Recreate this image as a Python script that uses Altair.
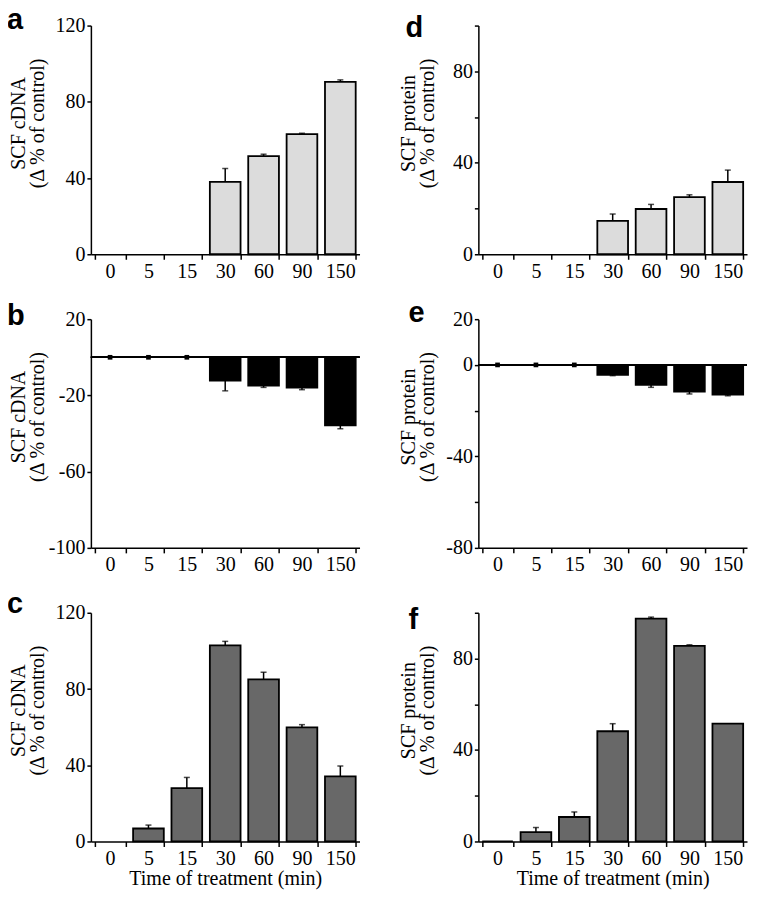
import altair as alt
import pandas as pd

times = ["0", "5", "15", "30", "60", "90", "150"]

# panel a: SCF cDNA (light grey)
a_vals = [0, 0, 0, 38, 51.5, 63, 90.5]
a_errs = [0, 0, 0, 7, 1, 0.5, 1]
# panel b: SCF cDNA (black, negative)
b_vals = [0, 0, 0, -12.2, -14.8, -15.9, -35.7]
b_errs = [0.5, 0.5, 0.5, 5.4, 1, 1.1, 1.8]
# panel c: SCF cDNA (dark grey)
c_vals = [0, 6.8, 28, 102.9, 85.1, 59.9, 34.2]
c_errs = [0, 1.8, 5.6, 2.1, 3.7, 1.4, 5.4]
# panel d: SCF protein (light grey)
d_vals = [0, 0, 0, 14.6, 19.8, 25, 31.6]
d_errs = [0, 0, 0, 3, 2, 1, 5.2]
# panel e: SCF protein (black, negative)
e_vals = [0, 0, 0, -4.3, -8.7, -11.7, -13.0]
e_errs = [0.3, 0.3, 0.3, 0.4, 1.1, 1, 0.5]
# panel f: SCF protein (dark grey)
f_vals = [0, 4.1, 10.7, 48.2, 97.4, 85.5, 51.5]
f_errs = [0, 2, 2.2, 3.3, 0.7, 0.5, 0]

title_cdna = ["SCF cDNA", "(\u0394 % of control)"]
title_prot = ["SCF protein", "(\u0394 % of control)"]
x_title = "Time of treatment (min)"

SERIF = "Liberation Serif"
SANS = "Liberation Sans"


def panel(vals, errs, letter, lx, ly, ytitle, ydom, ylabels, fill, height,
          width, title_x, xtitle, negative, draw_zero):
    tips = [v - e if negative else v + e for v, e in zip(vals, errs)]
    df = pd.DataFrame({"time": times, "value": vals, "err": errs, "tip": tips})
    ticks = list(range(ydom[0], ydom[1] + 1, 20))
    lab_list = "[" + ",".join(str(v) for v in ylabels) + "]"
    xaxis_kw = dict(labelAngle=0, tickBand="extent", tickSize=5, labelPadding=2,
                    titlePadding=0, labelOverlap=False)
    xscale = alt.Scale(domain=times, paddingInner=0.2, paddingOuter=0.1)
    if xtitle:
        xenc = alt.X("time:N", sort=times, scale=xscale,
                     axis=alt.Axis(title=xtitle, **xaxis_kw))
    else:
        xenc = alt.X("time:N", sort=times, scale=xscale,
                     axis=alt.Axis(title=None, **xaxis_kw))
    yenc = alt.Y("value:Q",
                 scale=alt.Scale(domain=ydom, nice=False),
                 axis=alt.Axis(values=ticks,
                               labelExpr="indexof(" + lab_list + ", datum.value) >= 0 ? '' + datum.value : ''",
                               title=ytitle, titleX=title_x, titleY=height / 2 - 17,
                               grid=False, tickSize=4, labelPadding=2,
                               labelOverlap=False))
    base = alt.Chart(df)
    if draw_zero:
        bar_src = base
    else:
        bar_src = base.transform_filter("datum.value != 0")
    bars = bar_src.mark_bar(fill=fill, stroke="black", strokeWidth=1.8).encode(
        x=xenc, y=yenc, y2=alt.datum(0))
    err_src = base.transform_filter("datum.err > 0 && datum.value != 0")
    err_rule = err_src.mark_rule(color="black", strokeWidth=1.5).encode(
        x=xenc, y="value:Q", y2="tip:Q")
    err_cap = err_src.mark_tick(color="black", size=6, thickness=1.5).encode(
        x=xenc, y="tip:Q")
    layers = [bars, err_rule, err_cap]
    if negative:
        zero_rule = alt.Chart(df).mark_rule(color="black", strokeWidth=1.5).encode(
            y=alt.datum(0))
        squares = base.transform_filter("datum.value == 0").mark_point(
            shape="square", filled=True, color="black", size=22, opacity=1).encode(
            x=xenc, y="value:Q")
        layers = [zero_rule, bars, squares, err_rule, err_cap]
    letter_df = pd.DataFrame({"t": [letter]})
    lab = alt.Chart(letter_df).mark_text(
        font=SANS, fontWeight="bold", fontSize=29, align="left",
        baseline="alphabetic", color="black").encode(
        text="t:N", x=alt.value(lx), y=alt.value(ly))
    layers.append(lab)
    return alt.layer(*layers).properties(width=width, height=height)


H = 229
WL = 269
WR = 269

pa = panel(a_vals, a_errs, "a", -84, 3, title_cdna, [0, 120], [0, 40, 80, 120],
           "#dcdcdc", H, WL, -62, None, False, False)
pb = panel(b_vals, b_errs, "b", -84, 6, title_cdna, [-100, 20], [20, 0, -20, -60, -100],
           "#000000", H, WL, -62, None, True, False)
pc = panel(c_vals, c_errs, "c", -84, 0, title_cdna, [0, 120], [0, 40, 80, 120],
           "#686868", H, WL, -62, x_title, False, False)
pd_ = panel(d_vals, d_errs, "d", -73, 11, title_prot, [0, 100], [0, 40, 80],
            "#dcdcdc", H, WR, -60, None, False, False)
pe = panel(e_vals, e_errs, "e", -70, 3, title_prot, [-80, 20], [20, 0, -40, -80],
           "#000000", H, WR, -60, None, True, False)
pf = panel(f_vals, f_errs, "f", -70, 16, title_prot, [0, 100], [0, 40, 80],
           "#686868", H, WR, -60, x_title, False, True)

chart = alt.concat(pa, pd_, pb, pe, pc, pf, columns=2, bounds="flush",
                   spacing={"row": 65, "column": 119}).properties(
    padding={"left": -2, "top": -4, "right": 0, "bottom": 0}
).configure_axis(
    labelFont=SERIF, titleFont=SERIF, labelFontSize=20, titleFontSize=20,
    titleFontWeight="normal", labelColor="black", titleColor="black",
    domainColor="black", tickColor="black", domainWidth=1.5, tickWidth=1.5,
    titleLineHeight=19
).configure_view(stroke="transparent")

chart.save("out.html", embed_options={"renderer": "svg", "actions": False})
